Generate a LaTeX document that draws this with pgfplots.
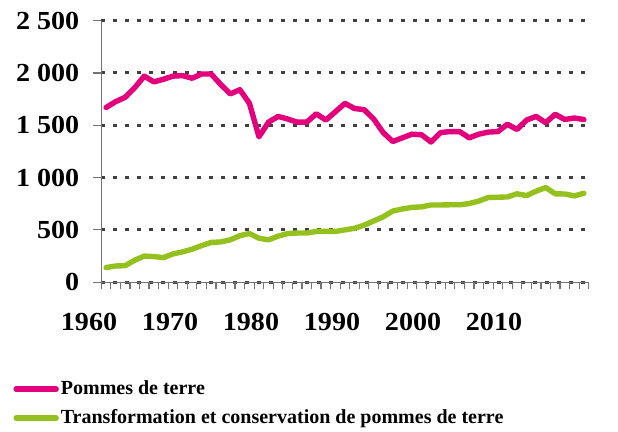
\documentclass[border=0pt]{standalone}
\usepackage{pgfplots}
\pgfplotsset{compat=1.18}
\usepackage{fontspec}
\setmainfont{Liberation Serif}
\newfontfamily\tickfont[FakeStretch=1.08]{Liberation Serif}
\definecolor{pdt}{HTML}{E4007C}
\definecolor{transfo}{HTML}{95C11F}
\definecolor{gridc}{HTML}{404040}

\begin{document}
\begin{tikzpicture}
% page frame: 1 px of the reference = 0.5pt
\path[use as bounding box] (0,0) rectangle (309pt,216pt);
\begin{axis}[
  scale only axis,
  width=243.7pt, height=130.75pt,
  at={(50.65pt,74.9pt)}, anchor=south west,
  xmin=1959.5, xmax=2010.5, ymin=0, ymax=2500,
  axis x line*=bottom, axis y line*=left,
  axis line style={black!55, line width=0.6pt, -},
  % labels sit where the reference draws them, not under the years
  xtick={1966.69,1975.17,1983.64,1992.12,2000.6,2009.07},
  xticklabels={1960,1970,1980,1990,2000,2010},
  xticklabel style={xshift=-40.5pt, yshift=-8pt},
  minor xtick={1959.5,1960.5,...,2010.5},
  major x tick style={draw=none},
  minor x tick style={black!55, line width=0.6pt},
  ytick={0,500,1000,1500,2000,2500},
  yticklabels={0,500,1 000,1 500,2 000,2 500},
  ytick style={black!55, line width=0.6pt},
  yticklabel style={xshift=-3.5pt},
  tick align=outside, major tick length=4pt, minor tick length=3.5pt,
  ymajorgrids,
  grid style={gridc, line width=1.5pt, dash pattern=on 2pt off 4pt},
  ticklabel style={font=\tickfont\fontsize{13}{15}\selectfont\bfseries},
  /pgf/number format/assume math mode=true,
  legend style={at={(-0.181,-0.36)}, anchor=north west, draw=none,
    font=\fontsize{10}{12}\selectfont\bfseries, row sep=2pt,
    inner sep=0pt, nodes={inner xsep=1pt}},
  legend cell align=left,
  legend image code/.code={\draw[#1] (0pt,0pt) -- (20pt,0pt);},
  every axis plot/.append style={line width=2.7pt, line cap=round, line join=round, mark=none},
]
\addplot[pdt] coordinates {
 (1960,1670)(1961,1726)(1962,1768)(1963,1860)(1964,1970)(1965,1915)
 (1966,1940)(1967,1970)(1968,1975)(1969,1950)(1970,1990)(1971,1990)
 (1972,1890)(1973,1800)(1974,1840)(1975,1710)(1976,1390)(1977,1530)
 (1978,1585)(1979,1560)(1980,1530)(1981,1530)(1982,1610)(1983,1550)
 (1984,1630)(1985,1710)(1986,1660)(1987,1650)(1988,1560)(1989,1430)
 (1990,1345)(1991,1380)(1992,1415)(1993,1410)(1994,1340)(1995,1430)
 (1996,1440)(1997,1440)(1998,1380)(1999,1415)(2000,1435)(2001,1440)
 (2002,1510)(2003,1460)(2004,1550)(2005,1585)(2006,1525)(2007,1605)
 (2008,1555)(2009,1570)(2010,1555)
};
\addplot[transfo] coordinates {
 (1960,140)(1961,155)(1962,158)(1963,210)(1964,250)(1965,245)
 (1966,235)(1967,270)(1968,290)(1969,315)(1970,350)(1971,380)
 (1972,385)(1973,405)(1974,445)(1975,465)(1976,420)(1977,405)
 (1978,440)(1979,465)(1980,470)(1981,470)(1982,485)(1983,487)
 (1984,485)(1985,500)(1986,515)(1987,545)(1988,585)(1989,625)
 (1990,680)(1991,700)(1992,715)(1993,720)(1994,738)(1995,738)
 (1996,740)(1997,740)(1998,752)(1999,775)(2000,810)(2001,812)
 (2002,815)(2003,845)(2004,828)(2005,870)(2006,905)(2007,845)
 (2008,843)(2009,825)(2010,850)
};
\legend{Pommes de terre, Transformation et conservation de pommes de terre}
\end{axis}
\end{tikzpicture}
\end{document}
